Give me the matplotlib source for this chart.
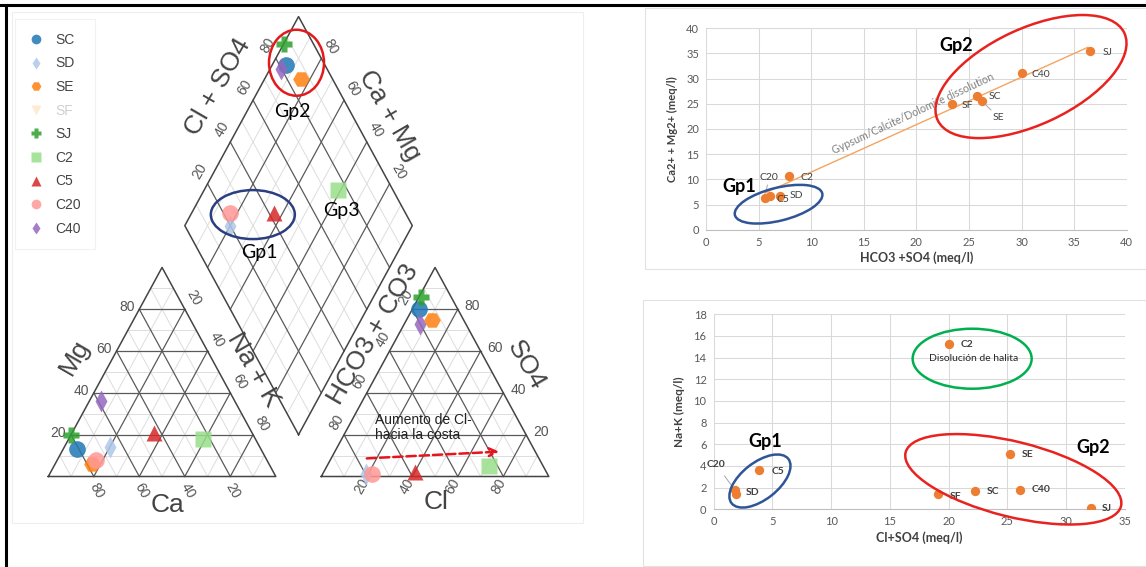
import numpy as np
import matplotlib.pyplot as plt
import matplotlib.transforms as mtransforms
from matplotlib.patches import Ellipse, Rectangle
from matplotlib.lines import Line2D

plt.rcParams['font.family'] = ['Liberation Sans', 'DejaVu Sans']

W, H = 1146, 567
H3 = np.sqrt(3) / 2

# samples, in legend order
samples = ['SC', 'SD', 'SE', 'SF', 'SJ', 'C2', 'C5', 'C20', 'C40']
colors = ['#1f77b4', '#aec7e8', '#ff7f0e', '#ffbb78', '#2ca02c',
          '#98df8a', '#d62728', '#ff9896', '#9467bd']
markers = ['o', 'd', 'H', 'v', 'P', 's', '^', 'o', 'd']
visible = [True, True, True, False, True, True, True, True, True]   # SF is switched off

# Piper diagram, % of meq/l (SF not drawn)
ca = [81, 66, 78, np.nan, 80, 23, 43, 75, 59]
mg = [13, 14, 6, np.nan, 20, 18, 21, 8, 36]
nak = [6, 20, 16, np.nan, 0, 59, 36, 17, 5]
hco3 = [17, 80, 14, np.nan, 13, 24, 58, 77, 20]
so4 = [80, 1, 75, np.nan, 86, 5, 2, 1, 73]
cl = [3, 19, 11, np.nan, 1, 71, 40, 22, 7]

# Ca2+ + Mg2+ vs HCO3 + SO4 (meq/l)
hco3_so4 = [25.8, 7.0, 26.2, 23.4, 36.5, 7.9, 6.1, 5.6, 30.0]
ca_mg = [26.5, 6.7, 25.6, 24.9, 35.5, 10.7, 6.6, 6.2, 31.1]
trend_x = [5.6, 36.3]
trend_y = [7.3, 36.2]

# Na+K vs Cl + SO4 (meq/l)
cl_so4 = [22.2, 1.9, 25.2, 19.1, 32.1, 20.0, 3.9, 1.8, 26.1]
na_k = [1.7, 1.4, 5.1, 1.4, 0.15, 15.3, 3.6, 1.8, 1.8]

ticks_pct = [20, 40, 60, 80]


def cation_xy(mg_, nak_):
    m, n = np.asarray(mg_) / 100, np.asarray(nak_) / 100
    return n + 0.5 * m, H3 * m


def anion_xy(so4_, cl_):
    s, c = np.asarray(so4_) / 100, np.asarray(cl_) / 100
    return 1.2 + c + 0.5 * s, H3 * s


def diamond_xy(nak_, cl_, so4_):
    camg = 1 - np.asarray(nak_) / 100
    a = (np.asarray(cl_) + np.asarray(so4_)) / 100
    return 1.1 - 0.5 * camg + 0.5 * a, H3 * (0.2 + camg + a)


def px_axes(x0, y0, x1, y1):
    return fig.add_axes([x0 / W, 1 - y1 / H, (x1 - x0) / W, (y1 - y0) / H])


def grid_line(ax, xs, ys, major):
    if major:
        ax.plot(xs, ys, color='#5a5a5a', lw=0.9, zorder=1)
    else:
        ax.plot(xs, ys, color='#dddddd', lw=0.7, zorder=0)


def tri_grid(ax, x0):
    for i in range(1, 10):
        t = i / 10
        grid_line(ax, (x0 + 0.5 * t, x0 + 1 - 0.5 * t), (H3 * t, H3 * t), i % 2 == 0)
        grid_line(ax, (x0 + t, x0 + 0.5 + 0.5 * t), (0, H3 * (1 - t)), i % 2 == 0)
        grid_line(ax, (x0 + t, x0 + 0.5 * t), (0, H3 * t), i % 2 == 0)
    ax.plot([x0, x0 + 1, x0 + 0.5, x0], [0, 0, H3, 0], color='#444444', lw=1.1, zorder=2)


def diamond_grid(ax):
    b = np.array([1.1, 0.2 * H3])
    u = np.array([-0.5, H3])
    v = np.array([0.5, H3])
    for i in range(1, 10):
        t = i / 10
        p, q = b + t * u, b + t * u + v
        grid_line(ax, (p[0], q[0]), (p[1], q[1]), i % 2 == 0)
        p, q = b + t * v, b + t * v + u
        grid_line(ax, (p[0], q[0]), (p[1], q[1]), i % 2 == 0)
    pts = np.array([b, b + u, b + u + v, b + v, b])
    ax.plot(pts[:, 0], pts[:, 1], color='#444444', lw=1.1, zorder=2)


def tick_label(ax, txt, xy, off, rot=0, ha='center'):
    ax.annotate(txt, xy=xy, xytext=off, textcoords='offset points', ha=ha, va='center',
                rotation=rot, fontsize=10, color='#555555')


def px_ellipse(ax, xy, w, h, angle, color):
    trans = fig.dpi_scale_trans + mtransforms.ScaledTranslation(xy[0], xy[1], ax.transData)
    ax.add_patch(Ellipse((0, 0), w / 100, h / 100, angle=angle, transform=trans,
                         fill=False, ec=color, lw=1.8, clip_on=False, zorder=5))


fig = plt.figure(figsize=(W / 100, H / 100), dpi=100)

# background frames, in pixel units
bg = fig.add_axes([0, 0, 1, 1], zorder=-1)
bg.set_xlim(0, W)
bg.set_ylim(H, 0)
bg.axis('off')
bg.add_patch(Rectangle((12, 12), 571, 511, fill=False, ec='#eeeeee', lw=0.8))
bg.add_patch(Rectangle((645, 8), 510, 261, fill=False, ec='#e2e2e2', lw=0.8))
bg.add_patch(Rectangle((643, 300), 510, 266, fill=False, ec='#e2e2e2', lw=0.8))
bg.plot([0, W], [5, 5], color='black', lw=2.2)
bg.plot([6, 6], [5, H], color='black', lw=2.2)

# ---------------- Piper diagram ----------------
PX0, SX, PY0, SY = 48.3, 227.5, 476.5, 241.4
ax = px_axes(8, 8, 585, 560)
ax.set_xlim((8 - PX0) / SX, (585 - PX0) / SX)
ax.set_ylim((PY0 - 560) / SY, (PY0 - 8) / SY)
ax.axis('off')
ax.patch.set_alpha(0)

tri_grid(ax, 0.0)
tri_grid(ax, 1.2)
diamond_grid(ax)

for v in ticks_pct:
    f = v / 100
    tick_label(ax, str(v), (1 - f, 0), (2, -10), rot=-60)                      # Ca
    tick_label(ax, str(v), (0.5 * f, H3 * f), (-3.5, 1.5), ha='right')        # Mg
    tick_label(ax, str(v), (0.5 + 0.5 * f, H3 * (1 - f)), (6.5, 8), rot=-60)  # Na + K
    tick_label(ax, str(v), (1.2 + f, 0), (-3.6, -7.2), rot=60)               # Cl
    tick_label(ax, str(v), (2.2 - 0.5 * f, H3 * f), (5, 2), ha='left')       # SO4
    tick_label(ax, str(v), (1.2 + 0.5 * (1 - f), H3 * (1 - f)), (-5, 8.6), rot=60)  # HCO3
    tick_label(ax, str(v), (0.6 + 0.5 * f, H3 * (1.2 + f)), (-5.8, 9.4), rot=60)    # Cl + SO4
    tick_label(ax, str(v), (1.6 - 0.5 * f, H3 * (1.2 + f)), (6.5, 8.6), rot=-60)    # Ca + Mg

title_kw = dict(fontsize=19, color='#444444', ha='center', va='center')
ax.text(0.746, 1.615, 'Cl + SO4', rotation=60, **title_kw)
ax.text(1.498, 1.495, 'Ca + Mg', rotation=-60, **title_kw)
ax.text(0.117, 0.496, 'Mg', rotation=60, **title_kw)
ax.text(0.525, -0.118, 'Ca', **title_kw)
ax.text(0.901, 0.441, 'Na + K', rotation=-60, **title_kw)
ax.text(1.429, 0.590, 'HCO3 + CO3', rotation=60, **title_kw)
ax.text(2.098, 0.462, 'SO4', rotation=-60, **title_kw)
ax.text(1.704, -0.104, 'Cl', **title_kw)

cx, cy = cation_xy(mg, nak)
axx, axy = anion_xy(so4, cl)
dx, dy = diamond_xy(nak, cl, so4)
for i, s in enumerate(samples):
    if not visible[i]:
        continue
    ms = 11 if markers[i] == 'd' else 12
    for xs, ys in ((cx, cy), (axx, axy), (dx, dy)):
        ax.plot(xs[i], ys[i], ls='none', marker=markers[i], ms=ms, color=colors[i],
                alpha=0.85, mec='none', zorder=4)

gp_kw = dict(fontsize=14, color='black', ha='center', va='center', family=['Lato', 'DejaVu Sans'])
ax.text(0.927, 0.929, 'Gp1', **gp_kw)
ax.text(1.071, 1.511, 'Gp2', **gp_kw)
ax.text(1.289, 1.102, 'Gp3', **gp_kw)
ax.add_patch(Ellipse((1.091, 1.714), 55 / SX, 66 / SY, fill=False, ec='#e31a1c', lw=1.8, zorder=5))
ax.add_patch(Ellipse((0.899, 1.085), 84 / SX, 49 / SY, fill=False, ec='#2b3f80', lw=1.8, zorder=5))

ax.text(1.436, 0.263, 'Aumento de Cl-\nhacia la costa', fontsize=10, color='#222222',
        ha='left', va='top', linespacing=1.1)
ax.annotate('', xy=(1.982, 0.103), xytext=(1.400, 0.075),
            arrowprops=dict(arrowstyle='->', color='#e8141c', lw=1.8, ls='--',
                            mutation_scale=14, shrinkA=0, shrinkB=0))

handles = [Line2D([], [], ls='none', marker=m, color=c, ms=7 if m != 'd' else 6.5,
                  mec='none', alpha=0.85 if vis else 0.3)
           for m, c, vis in zip(markers, colors, visible)]
leg = fig.legend(handles, samples, loc='upper left', bbox_to_anchor=(15 / W, 1 - 19 / H),
                 fontsize=10, frameon=True, fancybox=False, labelspacing=0.69,
                 handlelength=1.0, handletextpad=0.9, borderpad=1.0, borderaxespad=0)
leg.get_frame().set_edgecolor('#eeeeee')
leg.get_frame().set_linewidth(0.8)
for t, vis in zip(leg.get_texts(), visible):
    t.set_color('#444444' if vis else '#d0d0d0')

# ---------------- Excel-style scatter charts ----------------
LATO = ['Lato', 'DejaVu Sans']


def style_excel(a, xmax, ymax, xstep, ystep):
    a.set_xlim(0, xmax)
    a.set_ylim(0, ymax)
    a.set_xticks(np.arange(0, xmax + 0.1, xstep))
    a.set_yticks(np.arange(0, ymax + 0.1, ystep))
    a.grid(True, color='#d9d9d9', lw=0.75)
    a.set_axisbelow(True)
    for side in ('top', 'right', 'left'):
        a.spines[side].set_visible(False)
    a.spines['bottom'].set_color('#bfbfbf')
    a.spines['bottom'].set_linewidth(0.8)
    a.tick_params(length=0, labelsize=8, labelcolor='#595959', pad=5)
    for lab in a.get_xticklabels() + a.get_yticklabels():
        lab.set_family(LATO)
    a.patch.set_alpha(0)


# top: Ca+Mg vs HCO3+SO4
a1 = px_axes(706, 28.2, 1126.7, 229.7)
style_excel(a1, 40, 40, 5, 5)
a1.plot(trend_x, trend_y, color='#f4a460', lw=1, zorder=2)
a1.scatter(hco3_so4, ca_mg, s=45, color='#ed7d31', zorder=3, linewidths=0)
a1.set_xlabel('HCO3 +SO4 (meq/l)', fontsize=9, fontweight='bold', color='#404040',
              family=LATO, labelpad=3)
a1.set_ylabel('Ca2+ + Mg2+ (meq/l)', fontsize=8, fontweight='bold', color='#404040',
              family=LATO, labelpad=6)

top_offsets = {'SC': (8, 0), 'SD': (7.5, 0), 'SE': (8, -12), 'SF': (7, -1), 'SJ': (9, -1),
               'C2': (8, -1), 'C5': (4.5, -2.5), 'C20': (9.5, 15), 'C40': (7.5, -1)}
for i, s in enumerate(samples):
    off = top_offsets[s]
    ha = 'right' if s == 'C20' else 'left'
    arrow = dict(arrowstyle='-', color='#a6a6a6', lw=0.7, shrinkA=0, shrinkB=4) \
        if s in ('SE', 'C20') else None
    a1.annotate(s, xy=(hco3_so4[i], ca_mg[i]), xytext=off, textcoords='offset points',
                ha=ha, va='center', fontsize=7.5, color='#404040', family=LATO,
                arrowprops=arrow, zorder=4)

a1.text(19.7, 23.1, 'Gypsum/Calcite/Dolomite dissolution', rotation=25, fontsize=7.7,
        color='#7f7f7f', ha='center', va='center', family=LATO, zorder=4)
a1.text(23.8, 36.6, 'Gp2', fontsize=13, fontweight='bold', ha='center', va='center', family=LATO)
a1.text(3.2, 8.5, 'Gp1', fontsize=13, fontweight='bold', ha='center', va='center', family=LATO)
px_ellipse(a1, (30.9, 30.4), 206, 96, 25, '#e8231f')
px_ellipse(a1, (6.9, 5.06), 90, 33, 14, '#2f5597')

# bottom: Na+K vs Cl+SO4
a2 = px_axes(713.5, 314.3, 1125, 509.3)
style_excel(a2, 35, 18, 5, 2)
a2.scatter(cl_so4, na_k, s=45, color='#ed7d31', zorder=3, linewidths=0)
a2.set_xlabel('Cl+SO4 (meq/l)', fontsize=9, fontweight='bold', color='#404040',
              family=LATO, labelpad=3)
a2.set_ylabel('Na+K (meq/l)', fontsize=8.5, fontweight='bold', color='#404040',
              family=LATO, labelpad=6)

bot_offsets = {'SC': (9, -0.5), 'SD': (7, 1.5), 'SE': (8.5, -0.5), 'SF': (8.5, -1.5),
               'SJ': (7.7, -0.5), 'C2': (8.4, -0.7), 'C5': (9, -0.7), 'C20': (-13.5, 18.5),
               'C40': (8.4, 0)}
for i, s in enumerate(samples):
    off = bot_offsets[s]
    ha = 'center' if s == 'C20' else 'left'
    arrow = dict(arrowstyle='-', color='#a6a6a6', lw=0.7, shrinkA=4, shrinkB=3) \
        if s == 'C20' else None
    a2.annotate(s, xy=(cl_so4[i], na_k[i]), xytext=off, textcoords='offset points',
                ha=ha, va='center', fontsize=7.5, fontweight='bold', color='#404040',
                family=LATO, arrowprops=arrow, zorder=4, annotation_clip=False)

a2.text(22.1, 13.94, 'Disolución de halita', fontsize=7.5, color='#262626',
        ha='center', va='center', family=LATO)
a2.text(4.4, 6.24, 'Gp1', fontsize=13, fontweight='bold', ha='center', va='center', family=LATO)
a2.text(32.3, 5.69, 'Gp2', fontsize=13, fontweight='bold', ha='center', va='center', family=LATO)
px_ellipse(a2, (22.0, 13.9), 119, 60, 0, '#00b050')
px_ellipse(a2, (3.95, 2.61), 72, 37, 38, '#2f5597')
px_ellipse(a2, (25.5, 2.77), 222, 75, -14, '#e8231f')

fig.savefig('out.png', dpi=100)
